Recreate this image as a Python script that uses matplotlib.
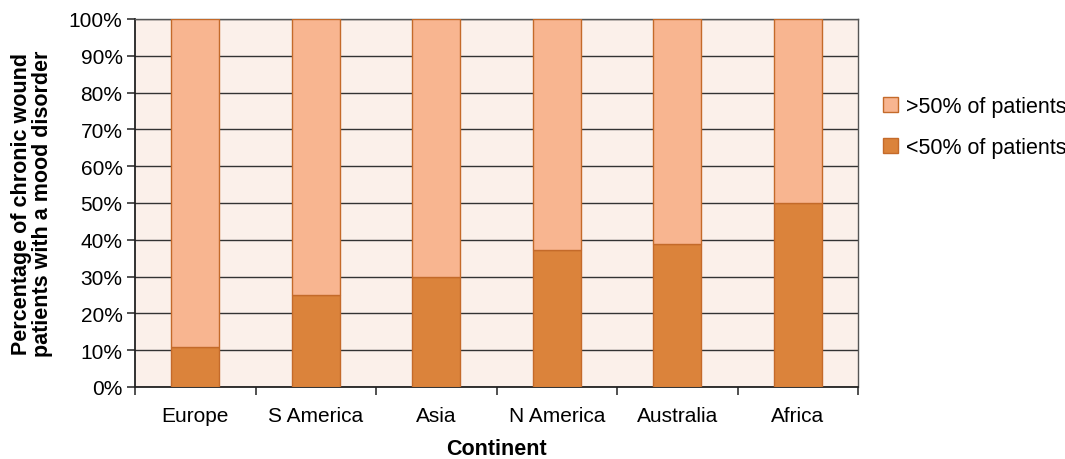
import matplotlib.pyplot as plt
from matplotlib.patches import Patch
from matplotlib.ticker import FixedLocator, PercentFormatter

plt.rcParams['font.family'] = ['Liberation Sans', 'DejaVu Sans']

continents = ['Europe', 'S America', 'Asia', 'N America', 'Australia', 'Africa']
below_50 = [11, 25, 30, 37.2, 38.9, 50]      # <50% of patients
above_50 = [100 - v for v in below_50]        # >50% of patients

light = '#F8B590'
dark = '#DB833B'
edge = '#C46A2A'
bg = '#FBF0EA'

fig = plt.figure(figsize=(10.65, 4.6), dpi=100)
ax = fig.add_axes([135 / 1065, 1 - 388 / 460, 723 / 1065, 368 / 460])
ax.set_facecolor(bg)

x = range(len(continents))
ax.bar(x, below_50, width=0.4, color=dark, edgecolor=edge, linewidth=1, zorder=3)
ax.bar(x, above_50, width=0.4, bottom=below_50, color=light, edgecolor=edge, linewidth=1, zorder=3)

ax.set_xlim(-0.5, len(continents) - 0.5)
ax.set_ylim(0, 100)
ax.set_yticks(range(0, 101, 10))
ax.yaxis.set_major_formatter(PercentFormatter(decimals=0))
ax.grid(axis='y', color='#333333', linewidth=1, zorder=1)

ax.set_xticks(list(x))
ax.set_xticklabels(continents, fontsize=15)
ax.tick_params(axis='x', which='major', length=0, pad=14)
ax.xaxis.set_minor_locator(FixedLocator([i + 0.5 for i in range(-1, len(continents))]))
ax.tick_params(axis='x', which='minor', length=6, width=1.2, color='#333333')
ax.tick_params(axis='y', length=6, width=1.2, color='#333333', labelsize=15, pad=3)

for side in ['top', 'right']:
    ax.spines[side].set_color('#555555')
    ax.spines[side].set_linewidth(1)
for side in ['left', 'bottom']:
    ax.spines[side].set_color('#222222')
    ax.spines[side].set_linewidth(1.3)

ax.set_xlabel('Continent', fontsize=15.5, fontweight='bold', labelpad=9)
ax.set_ylabel('Percentage of chronic wound\npatients with a mood disorder',
              fontsize=15.5, fontweight='bold', labelpad=11, linespacing=1.05)

handles = [Patch(facecolor=light, edgecolor=edge, label='>50% of patients'),
           Patch(facecolor=dark, edgecolor=edge, label='<50% of patients')]
fig.legend(handles=handles, loc='upper left', bbox_to_anchor=(864 / 1065, 1 - 78 / 460),
           frameon=False, fontsize=15.5, handlelength=0.7, handleheight=0.7,
           handletextpad=0.35, labelspacing=0.9)

fig.savefig('out.png', dpi=100)
